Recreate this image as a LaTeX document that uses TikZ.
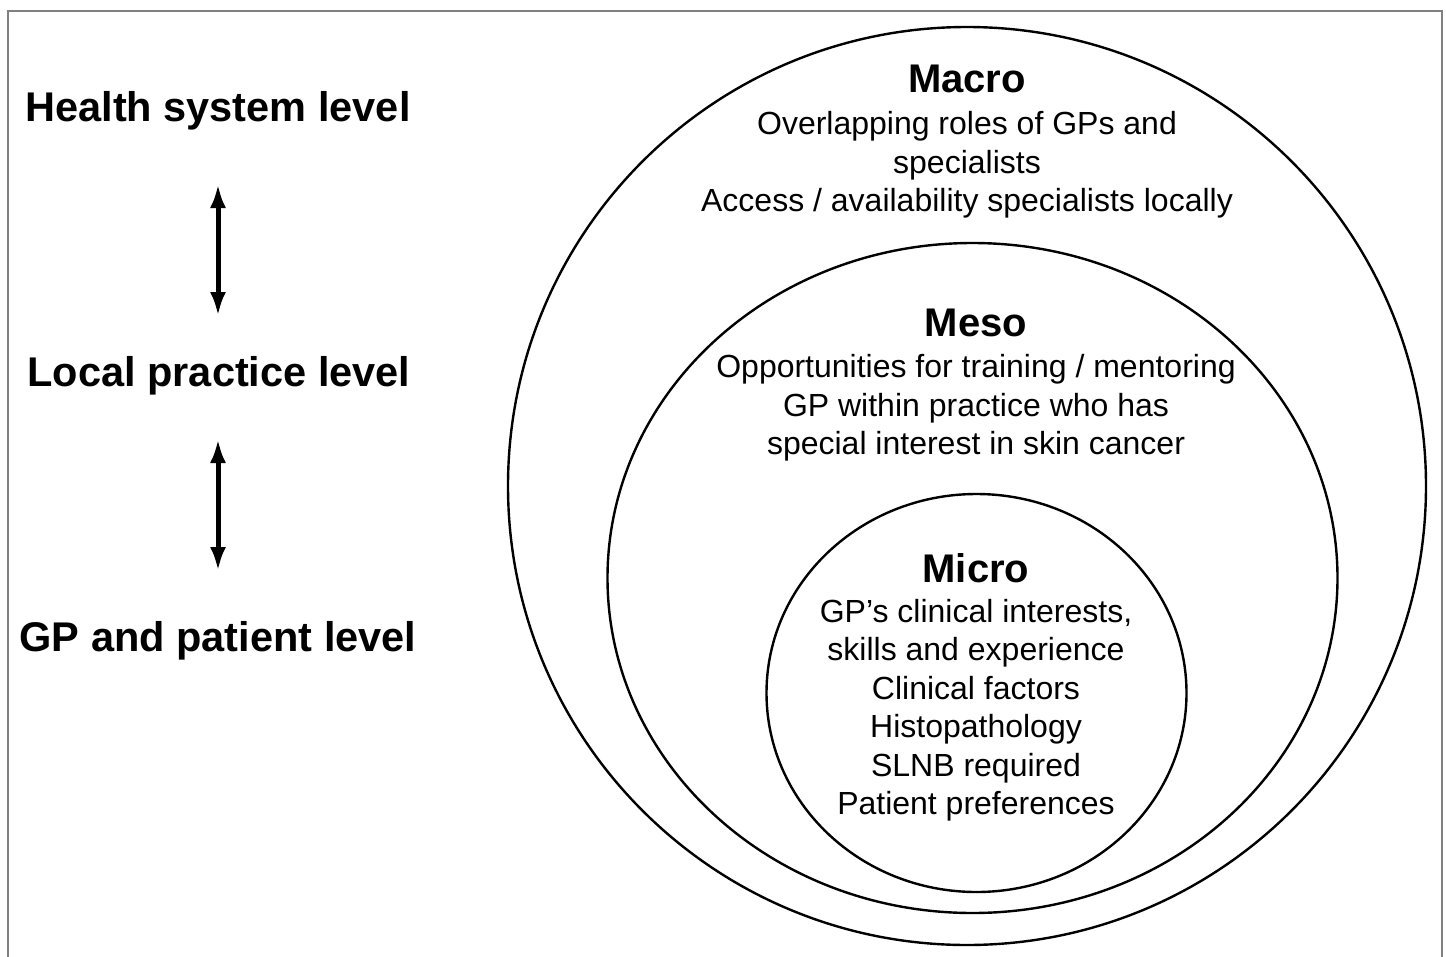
\documentclass[tikz,border=0pt]{standalone}
\usepackage{fontspec}
\setmainfont{Liberation Sans}
\usetikzlibrary{arrows.meta,shapes.geometric}
\begin{document}
\begin{tikzpicture}[x=1pt,y=-1pt,
  level/.style={font=\fontsize{41.5}{48}\selectfont\bfseries, inner sep=0pt},
  title/.style={font=\fontsize{40}{48}\selectfont\bfseries, inner sep=0pt},
  body/.style={font=\fontsize{32}{38.5}\selectfont, align=center, inner sep=0pt},
  ring/.style={draw, line width=2.4pt, ellipse, inner sep=0pt},
  dbl/.style={line width=5pt, {Latex[length=24pt,width=16pt]}-{Latex[length=24pt,width=16pt]}}]
\useasboundingbox (0,0) rectangle (1446,956);
\draw[gray, line width=1.2pt] (8,960) -- (8,11) -- (1442,11) -- (1442,960);
% rings
\node[ring, minimum width=918pt, minimum height=918pt] (outer) at (967,486) {};
\node[ring, minimum width=730pt, minimum height=670pt] (middle) at (972.5,578) {};
\node[ring, minimum width=420pt, minimum height=398pt] (inner) at (976.5,693) {};
% left labels
\node[level] (hs) at (218,111) {Health system level};
\node[level] (lp) at (219,376) {Local practice level};
\node[level] (gp) at (218,641) {GP and patient level};
\coordinate (a1) at (218,184);
\coordinate (a2) at (218,316);
\coordinate (b1) at (218,439);
\coordinate (b2) at (218,571);
\draw[dbl] (a1) -- (a2);
\draw[dbl] (b1) -- (b2);
% texts
\node[title] (macro) at (967,79) {Macro};
\node[body] (macrot) at (967,165) {Overlapping roles of GPs and\\specialists\\Access / availability specialists locally};
\node[title] (meso) at (976,323) {Meso};
\node[body] (mesot) at (976,408) {Opportunities for training / mentoring\\GP within practice who has\\special interest in skin cancer};
\node[title] (micro) at (976,568) {Micro};
\node[body] (microt) at (976,710) {GP’s clinical interests,\\skills and experience\\Clinical factors\\Histopathology\\SLNB required\\Patient preferences};
\end{tikzpicture}
\end{document}
